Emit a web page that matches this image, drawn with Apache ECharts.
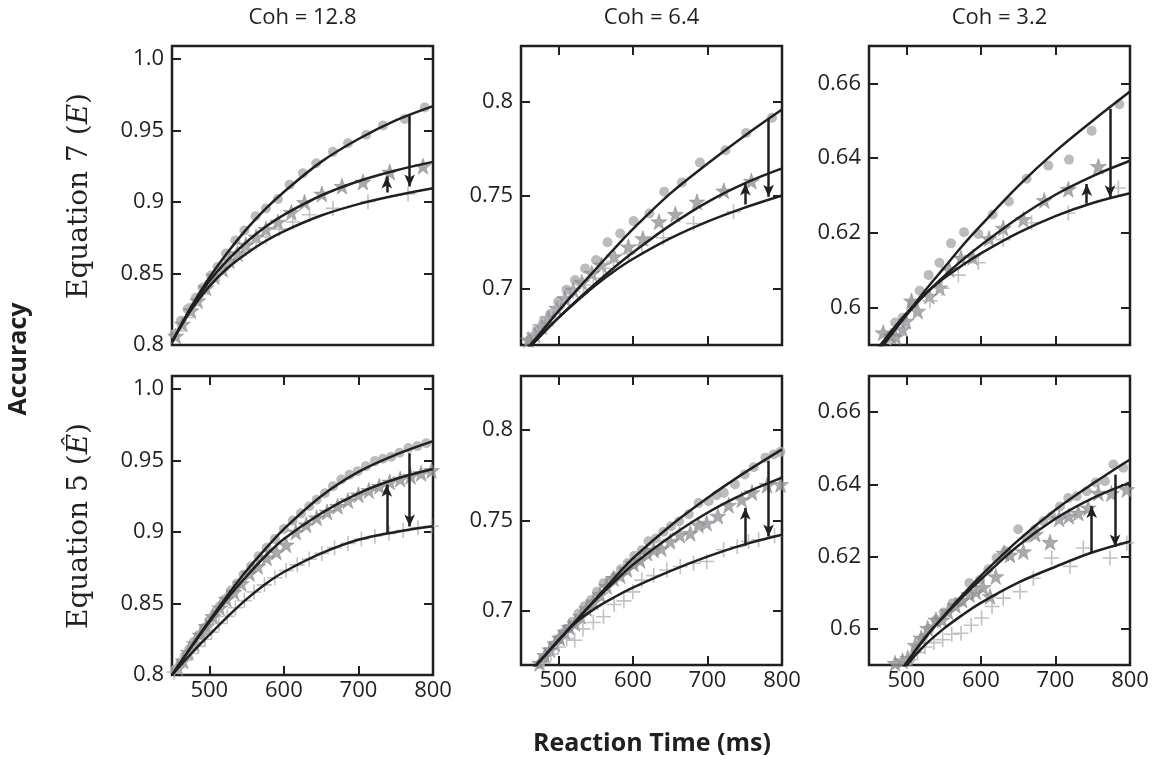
<!DOCTYPE html>
<html lang="en">
<head>
<meta charset="UTF-8">
<title>Accuracy vs reaction time</title>
<script src="https://cdn.jsdelivr.net/npm/echarts@6/dist/echarts.min.js"></script>
</head>
<body style="margin:0">
<div id="main" style="width:1158px;height:761px;"></div>
<script type="text/javascript">
// RT grid used for the fitted curves (ms)
var fitRT = [450, 475, 500, 525, 550, 575, 600, 650, 700, 750, 800];

// ---- Equation 7, Coh = 12.8
var e7c128Circ = [[453,0.8075],[462,0.817],[471,0.825],[482,0.833],[491,0.840],[502,0.8486],[511,0.8545],[522.5,0.864],[535,0.873],[547,0.880],[562,0.890],[576,0.8955],[592,0.902],[607.6,0.912],[625.5,0.920],[643.4,0.927],[665.8,0.935],[686,0.941],[710.5,0.947],[733,0.9535],[762,0.958],[789,0.966]];
var e7c128Star = [[455,0.8063],[464,0.8146],[475.5,0.824],[484.5,0.831],[495.6,0.840],[507,0.848],[518,0.853],[527,0.859],[538,0.864],[549,0.870],[562.8,0.8756],[576,0.881],[592,0.886],[610,0.8927],[627.7,0.8998],[651,0.9056],[678,0.911],[706,0.914],[742,0.921],[786.6,0.925]];
var e7c128Plus = [[457.6,0.810],[468.8,0.8192],[480,0.8286],[491,0.8357],[502,0.844],[513.6,0.850],[524.8,0.857],[536,0.8627],[549,0.8674],[562.8,0.872],[576,0.8756],[594,0.881],[612,0.886],[634.4,0.891],[665.8,0.8955],[712.8,0.9002],[766.5,0.9056]];
var e7c128FitCirc = [0.802, 0.826, 0.847, 0.865, 0.881, 0.895, 0.907, 0.928, 0.944, 0.957, 0.967];
var e7c128FitStar = [0.802, 0.8255, 0.8445, 0.8595, 0.872, 0.8825, 0.891, 0.9045, 0.9145, 0.922, 0.928];
var e7c128FitPlus = [0.802, 0.824, 0.841, 0.854, 0.864, 0.8725, 0.8795, 0.8905, 0.8985, 0.9045, 0.9095];
var e7c128Arrows = [[738, 0.9066, 0.9178], [768.7, 0.9606, 0.9108]];

// ---- Equation 7, Coh = 6.4
var e7c64Circ = [[462,0.6728],[471,0.6772],[479,0.681],[489,0.686],[500,0.6932],[511,0.6995],[522.5,0.7048],[536,0.711],[550.7,0.7155],[566,0.725],[583,0.7297],[601,0.7363],[622,0.7404],[642,0.752],[665.8,0.757],[690,0.7676],[724,0.7742],[752,0.7835],[786.6,0.7916]];
var e7c64Star = [[460,0.6728],[468.8,0.6754],[477.8,0.6799],[486.7,0.6843],[498,0.6897],[509,0.695],[520,0.6995],[531.5,0.7036],[545,0.7084],[558,0.7128],[575,0.7173],[594,0.7226],[613.4,0.727],[635,0.736],[657,0.740],[686,0.7466],[722,0.7525],[759,0.7577]];
var e7c64Plus = [[466.6,0.6763],[475.5,0.6808],[484.5,0.6843],[495.7,0.6888],[507,0.6932],[520,0.6986],[533.7,0.7021],[547,0.7057],[560.6,0.711],[574,0.7146],[594,0.719],[612,0.7235],[641,0.7274],[681.4,0.735],[735,0.7413]];
var e7c64FitCirc = [0.664, 0.676, 0.688, 0.6995, 0.7105, 0.7215, 0.732, 0.751, 0.767, 0.782, 0.796];
var e7c64FitStar = [0.664, 0.6745, 0.6845, 0.694, 0.703, 0.7115, 0.7195, 0.734, 0.7465, 0.7565, 0.7645];
var e7c64FitPlus = [0.664, 0.6745, 0.6845, 0.6935, 0.702, 0.7095, 0.716, 0.727, 0.736, 0.7435, 0.750];
var e7c64Arrows = [[750.8, 0.7452, 0.7564], [782, 0.7911, 0.7493]];

// ---- Equation 7, Coh = 3.2
var e7c32Circ = [[478,0.5925],[485,0.596],[495,0.5973],[507.7,0.6009],[518,0.6045],[530,0.6087],[544.4,0.612],[560,0.6172],[577.4,0.6202],[596.6,0.6197],[615.8,0.6249],[637.7,0.6284],[661.4,0.6345],[690.5,0.638],[718.2,0.6396],[748.6,0.6473],[785.7,0.6544]];
var e7c32Star = [[469,0.5933],[479.5,0.5924],[486,0.5922],[495,0.5942],[499.7,0.5964],[507,0.6018],[515.4,0.5991],[530.9,0.6031],[545,0.6053],[557.7,0.6102],[573.4,0.6133],[589,0.6135],[611,0.6185],[630,0.6213],[657,0.6236],[685,0.6287],[717.3,0.6317],[757.6,0.6378]];
var e7c32Plus = [[478,0.592],[493.8,0.5956],[510,0.5995],[531.8,0.6018],[548,0.6052],[569.8,0.6087],[596.6,0.612],[630,0.6182],[668,0.6227],[717.3,0.6253],[784.4,0.632]];
var e7c32FitCirc = [0.585, 0.5915, 0.598, 0.6045, 0.6105, 0.6165, 0.622, 0.6325, 0.6418, 0.650, 0.6578];
var e7c32FitStar = [0.5855, 0.592, 0.598, 0.6035, 0.6083, 0.6127, 0.6167, 0.624, 0.6302, 0.6352, 0.6393];
var e7c32FitPlus = [0.586, 0.5925, 0.5985, 0.6036, 0.6078, 0.6113, 0.6145, 0.620, 0.6245, 0.628, 0.6306];
var e7c32Arrows = [[742, 0.6278, 0.6331], [773.2, 0.6532, 0.6295]];

// ---- Equation 5, Coh = 12.8
var e5c128Circ = [[455,0.804],[461,0.808],[467,0.813],[473,0.818],[479,0.823],[486,0.828],[493,0.833],[500,0.838],[507,0.843],[514,0.848],[521,0.853],[529,0.859],[537,0.864],[546,0.870],[556,0.876],[566,0.883],[577,0.889],[588,0.895],[600,0.902],[612,0.908],[623,0.913],[634,0.918],[644,0.9225],[655,0.927],[666,0.932],[677,0.9366],[688,0.940],[699,0.9425],[710,0.946],[722,0.9495],[733,0.9512],[744,0.9526],[755,0.9554],[767,0.9587],[779,0.960],[791,0.962]];
var e5c128Star = [[458,0.805],[465,0.810],[472,0.816],[480,0.822],[488,0.828],[496,0.834],[505,0.841],[514,0.847],[523,0.853],[533,0.858],[543,0.864],[554,0.871],[565,0.876],[577,0.882],[590,0.886],[603,0.891],[616,0.900],[630,0.905],[644,0.910],[658,0.914],[672,0.918],[686,0.922],[700,0.926],[714,0.929],[728,0.932],[742,0.935],[756,0.937],[770,0.939],[784,0.941],[798,0.943]];
var e5c128Plus = [[453,0.802],[460,0.806],[468,0.811],[476,0.815],[485,0.820],[494,0.825],[503,0.830],[513,0.836],[524,0.841],[535,0.847],[547,0.852],[560,0.858],[574,0.863],[588,0.868],[603,0.873],[618,0.877],[634,0.881],[651,0.885],[668,0.889],[686,0.892],[704,0.895],[722,0.897],[741,0.899],[760,0.901],[780,0.903],[798,0.904]];
var e5c128FitCirc = [0.800, 0.819, 0.838, 0.856, 0.873, 0.888, 0.902, 0.925, 0.942, 0.954, 0.9635];
var e5c128FitStar = [0.800, 0.819, 0.837, 0.854, 0.869, 0.883, 0.895, 0.913, 0.927, 0.937, 0.944];
var e5c128FitPlus = [0.800, 0.8145, 0.828, 0.841, 0.853, 0.8635, 0.872, 0.885, 0.8945, 0.900, 0.904];
var e5c128Arrows = [[738, 0.8986, 0.933], [768.7, 0.955, 0.9038]];

// ---- Equation 5, Coh = 6.4
var e5c64Circ = [[470,0.668],[475.5,0.6707],[481,0.674],[486.7,0.6772],[493,0.681],[500,0.6846],[506,0.6875],[511.3,0.690],[519,0.694],[527,0.6985],[535,0.7025],[544,0.706],[552,0.7105],[560.6,0.7152],[568,0.7165],[576,0.719],[584,0.723],[593,0.7265],[602,0.7305],[612,0.7335],[621,0.7385],[631,0.740],[641,0.7438],[651,0.7468],[662,0.7495],[675,0.7535],[688,0.7597],[701.6,0.7607],[712,0.764],[722,0.7653],[737,0.770],[750,0.7755],[762,0.7795],[777.7,0.7848],[789,0.7866],[798,0.788]];
var e5c64Star = [[468,0.668],[475,0.671],[482,0.6753],[489,0.6785],[495.7,0.6818],[502,0.685],[509,0.6883],[515,0.691],[522.5,0.693],[530,0.697],[538,0.7013],[547,0.705],[556,0.709],[565,0.7135],[574,0.718],[583,0.7195],[592,0.723],[601,0.726],[609.8,0.728],[619,0.732],[628,0.7338],[638,0.7345],[650,0.7385],[663,0.742],[677,0.743],[688,0.7475],[699,0.7486],[714,0.7525],[728.4,0.7585],[746,0.7616],[759.8,0.7655],[780,0.7695],[798,0.770]];
var e5c64Plus = [[470,0.6665],[480,0.671],[490,0.676],[500,0.680],[511.3,0.6846],[522,0.6837],[533,0.690],[547,0.6935],[560.6,0.6967],[575,0.7035],[588,0.7055],[600,0.7105],[612,0.717],[628,0.7195],[645.6,0.7226],[663.5,0.7245],[681.4,0.7263],[699,0.7273],[721.7,0.7338],[740,0.7355],[755,0.7384],[768.7,0.7393],[790,0.7415]];
var e5c64FitCirc = [0.661, 0.672, 0.6835, 0.695, 0.7065, 0.718, 0.729, 0.747, 0.7625, 0.7765, 0.7894];
var e5c64FitStar = [0.661, 0.672, 0.6835, 0.695, 0.706, 0.716, 0.7255, 0.741, 0.7543, 0.765, 0.7737];
var e5c64FitPlus = [0.661, 0.672, 0.6835, 0.694, 0.7015, 0.7075, 0.7128, 0.722, 0.730, 0.7368, 0.7421];
var e5c64Arrows = [[750.8, 0.736, 0.757], [782, 0.783, 0.7412]];

// ---- Equation 5, Coh = 3.2
var e5c32Circ = [[505,0.5915],[513,0.5945],[522,0.5975],[531,0.600],[540,0.6025],[550,0.6045],[562,0.6071],[572,0.6073],[584.5,0.6127],[598.9,0.6136],[610,0.6165],[621,0.6196],[633,0.6215],[650,0.6276],[661,0.6252],[672.6,0.6275],[683.8,0.6298],[695,0.6312],[706,0.6339],[717.3,0.6362],[728.5,0.6367],[742,0.6381],[754,0.6405],[766.5,0.6409],[777.7,0.6455],[791,0.6446]];
var e5c32Star = [[485,0.5905],[495,0.5912],[502,0.5919],[512,0.5955],[520,0.5975],[528.7,0.6002],[539.8,0.6025],[548,0.6025],[556,0.6048],[566,0.6065],[575,0.608],[585,0.6095],[593.5,0.6103],[603,0.6115],[612.3,0.609],[620,0.6145],[631,0.621],[639,0.6205],[657,0.6214],[673,0.6262],[692.7,0.624],[705,0.6305],[718,0.6312],[730.7,0.6321],[744,0.6335],[757.6,0.6376],[775,0.6375],[795.6,0.6386]];
var e5c32Plus = [[505,0.5915],[515,0.5935],[525,0.595],[537,0.5962],[548.8,0.597],[561,0.5985],[573.4,0.5988],[587,0.601],[601,0.603],[615,0.6062],[630,0.6085],[652.5,0.6103],[670.4,0.614],[695,0.6196],[719.6,0.6173],[737.4,0.6224],[773.2,0.6196],[795.6,0.6238]];
var e5c32FitCirc = [0.575, 0.583, 0.5905, 0.5975, 0.6035, 0.6093, 0.6147, 0.6245, 0.633, 0.6402, 0.6469];
var e5c32FitStar = [0.575, 0.583, 0.5905, 0.5975, 0.6033, 0.6087, 0.6137, 0.623, 0.6305, 0.6362, 0.6405];
var e5c32FitPlus = [0.575, 0.5825, 0.5898, 0.5955, 0.600, 0.6038, 0.6072, 0.6128, 0.6172, 0.6212, 0.6242];
var e5c32Arrows = [[748.6, 0.6212, 0.634], [780, 0.6427, 0.6228]];

// tick labels
var rtTicks = [500, 600, 700];
var rtLabels = [500, 600, 700, 800];
var accTicksHigh = [0.85, 0.9, 0.95, 1.0];
var accLabelsHigh = [0.8, 0.85, 0.9, 0.95, 1.0];
var accTicksMid = [0.7, 0.75, 0.8];
var accTicksLow = [0.6, 0.62, 0.64, 0.66];
var cohTitles = ['Coh = 12.8', 'Coh = 6.4', 'Coh = 3.2'];

var ink = '#231f20';
var sans = '"Open Sans", "Noto Sans", sans-serif';
var serif = '"DejaVu Serif", "Liberation Serif", serif';
var starPath = 'path://M50,0L61.8,35.1L98.1,35.1L68.8,56.7L79.4,91L50,70L20.6,91L31.2,56.7L1.9,35.1L38.2,35.1Z';
var plusPath = 'path://M6.25,0H7.75V6.25H14V7.75H7.75V14H6.25V7.75H0V6.25H6.25Z';

var panels = [
    {circ: e7c128Circ, star: e7c128Star, plus: e7c128Plus, fits: [e7c128FitCirc, e7c128FitStar, e7c128FitPlus], arrows: e7c128Arrows, yMin: 0.8, yMax: 1.009, yTicks: accTicksHigh, yLabels: accLabelsHigh},
    {circ: e7c64Circ, star: e7c64Star, plus: e7c64Plus, fits: [e7c64FitCirc, e7c64FitStar, e7c64FitPlus], arrows: e7c64Arrows, yMin: 0.67, yMax: 0.83, yTicks: accTicksMid, yLabels: accTicksMid},
    {circ: e7c32Circ, star: e7c32Star, plus: e7c32Plus, fits: [e7c32FitCirc, e7c32FitStar, e7c32FitPlus], arrows: e7c32Arrows, yMin: 0.59, yMax: 0.67, yTicks: accTicksLow, yLabels: accTicksLow},
    {circ: e5c128Circ, star: e5c128Star, plus: e5c128Plus, fits: [e5c128FitCirc, e5c128FitStar, e5c128FitPlus], arrows: e5c128Arrows, yMin: 0.8, yMax: 1.009, yTicks: accTicksHigh, yLabels: accLabelsHigh},
    {circ: e5c64Circ, star: e5c64Star, plus: e5c64Plus, fits: [e5c64FitCirc, e5c64FitStar, e5c64FitPlus], arrows: e5c64Arrows, yMin: 0.67, yMax: 0.83, yTicks: accTicksMid, yLabels: accTicksMid},
    {circ: e5c32Circ, star: e5c32Star, plus: e5c32Plus, fits: [e5c32FitCirc, e5c32FitStar, e5c32FitPlus], arrows: e5c32Arrows, yMin: 0.59, yMax: 0.67, yTicks: accTicksLow, yLabels: accTicksLow}
];

// panel boxes in px
var colLeft = [172, 521, 869];
var panelW = 261;
var rowTop = [46, 376];
var panelH = [[299, 299, 299], [299, 289, 289]];

var myChart = echarts.init(document.getElementById('main'));

var grids = [], xAxes = [], yAxes = [], series = [];
var tickStyle = {inside: true, length: 9, lineStyle: {color: ink, width: 2}};

panels.forEach(function (p, i) {
    var row = Math.floor(i / 3), col = i % 3;
    grids.push({
        left: colLeft[col], top: rowTop[row], width: panelW, height: panelH[row][col],
        show: true, borderColor: ink, borderWidth: 2.5, backgroundColor: 'transparent'
    });
    var showX = i !== 0;
    // bottom and top x axes
    xAxes[i] = {
        gridIndex: i, type: 'value', min: 450, max: 800, position: 'bottom',
        axisLine: {show: false}, splitLine: {show: false},
        axisTick: Object.assign({show: showX, customValues: rtTicks}, tickStyle),
        axisLabel: {show: row === 1, customValues: rtLabels, fontSize: 22, fontFamily: sans, color: ink, margin: 5}
    };
    xAxes[6 + i] = {
        gridIndex: i, type: 'value', min: 450, max: 800, position: 'top',
        axisLine: {show: false}, splitLine: {show: false},
        axisTick: Object.assign({show: showX, customValues: rtTicks}, tickStyle),
        axisLabel: {show: false}
    };
    yAxes[i] = {
        gridIndex: i, type: 'value', min: p.yMin, max: p.yMax, position: 'left',
        axisLine: {show: false}, splitLine: {show: false},
        axisTick: Object.assign({show: true, customValues: p.yTicks}, tickStyle),
        axisLabel: {
            customValues: p.yLabels, fontSize: 22, fontFamily: sans, color: ink, margin: 8,
            formatter: function (v) { return v === 1 ? '1.0' : String(v); }
        }
    };
    yAxes[6 + i] = {
        gridIndex: i, type: 'value', min: p.yMin, max: p.yMax, position: 'right',
        axisLine: {show: false}, splitLine: {show: false},
        axisTick: Object.assign({show: true, customValues: p.yTicks}, tickStyle),
        axisLabel: {show: false}
    };

    series.push({type: 'scatter', xAxisIndex: i, yAxisIndex: i, data: p.circ, symbol: 'circle', symbolSize: 10,
        itemStyle: {color: '#a9abae'}, z: 2, silent: true});
    series.push({type: 'scatter', xAxisIndex: i, yAxisIndex: i, data: p.star, symbol: starPath, symbolSize: 16,
        itemStyle: {color: '#939598', borderColor: '#7d7f82', borderWidth: 0.6}, z: 2, silent: true});
    series.push({type: 'scatter', xAxisIndex: i, yAxisIndex: i, data: p.plus, symbol: plusPath, symbolSize: 15,
        itemStyle: {color: '#b1b3b6'}, z: 2, silent: true});

    p.fits.forEach(function (fit, j) {
        var s = {
            type: 'line', xAxisIndex: i, yAxisIndex: i,
            data: fitRT.map(function (x, k) { return [x, fit[k]]; }),
            smooth: 0.35, symbol: 'none', lineStyle: {color: ink, width: 2.5}, z: 4, silent: true
        };
        if (j === 2) {
            s.markLine = {
                silent: true, symbol: ['none', 'arrow'], symbolSize: [8, 12],
                lineStyle: {color: ink, width: 2.5, type: 'solid'}, label: {show: false},
                data: p.arrows.map(function (a) { return [{coord: [a[0], a[1]]}, {coord: [a[0], a[2]]}]; })
            };
        }
        series.push(s);
    });
});

var texts = [];
cohTitles.forEach(function (t, c) {
    texts.push({type: 'text', x: colLeft[c] + panelW / 2, y: 18,
        style: {text: t, fontSize: 22, fontFamily: sans, fill: ink, align: 'center', verticalAlign: 'middle'}});
});
texts.push({type: 'text', x: 652, y: 744,
    style: {text: 'Reaction Time (ms)', fontSize: 25, fontWeight: 'bold', fontFamily: sans, fill: ink, align: 'center', verticalAlign: 'middle'}});
texts.push({type: 'text', x: 19, y: 359, rotation: Math.PI / 2,
    style: {text: 'Accuracy', fontSize: 25, fontWeight: 'bold', fontFamily: sans, fill: ink, align: 'center', verticalAlign: 'middle'}});
texts.push({type: 'text', x: 80, y: 196, rotation: Math.PI / 2,
    style: {text: 'Equation 7 ({i|E})', fontSize: 28, fontFamily: serif, fill: ink, align: 'center', verticalAlign: 'middle',
        rich: {i: {fontSize: 28, fontFamily: serif, fontStyle: 'italic', fill: ink}}}});
texts.push({type: 'text', x: 80, y: 526, rotation: Math.PI / 2,
    style: {text: 'Equation 5 ({i|Ê})', fontSize: 28, fontFamily: serif, fill: ink, align: 'center', verticalAlign: 'middle',
        rich: {i: {fontSize: 28, fontFamily: serif, fontStyle: 'italic', fill: ink}}}});

var option = {
    animation: false,
    backgroundColor: '#ffffff',
    grid: grids,
    xAxis: xAxes,
    yAxis: yAxes,
    series: series,
    graphic: texts
};
myChart.setOption(option);
</script>
</body>
</html>
